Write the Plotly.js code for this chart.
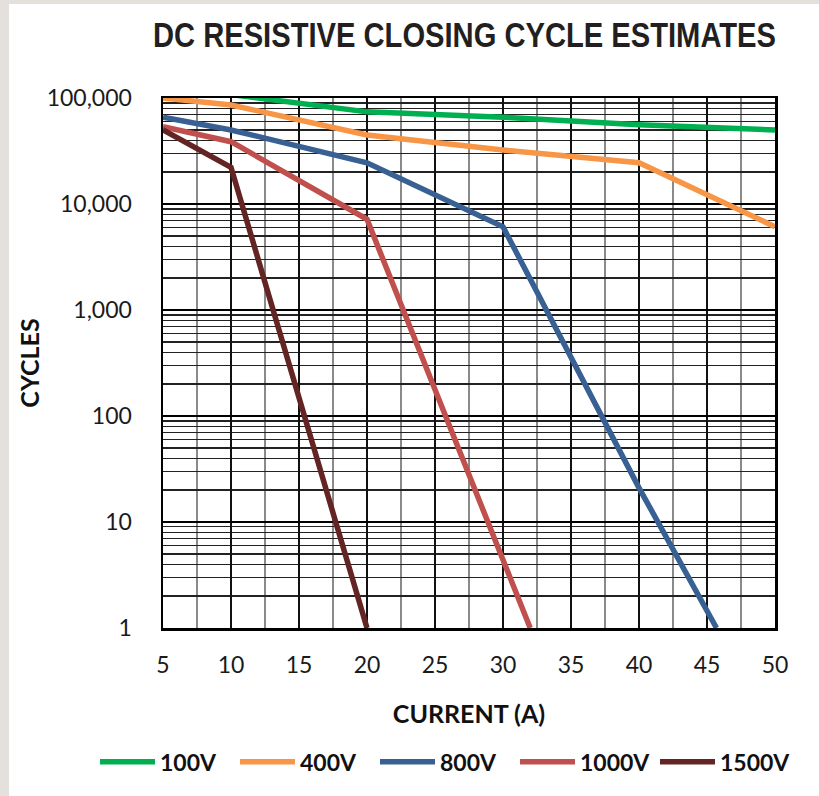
<!DOCTYPE html>
<html>
<head>
<meta charset="utf-8">
<script src="https://cdn.plot.ly/plotly-3.0.1.min.js"></script>
<style>
  html, body { margin: 0; padding: 0; width: 819px; height: 796px; overflow: hidden; background: #e4e0dc; }
  #chart { position: absolute; left: 9px; top: 4px; width: 810px; height: 792px; background: #ffffff; }
</style>
</head>
<body>
<div id="chart"></div>
<script>
// ---- data ----
const seriesNames = ["100V", "400V", "800V", "1000V", "1500V"];
const current100V = [5, 20, 30, 40, 50];
const cycles100V  = [130000, 74000, 66000, 56000, 50000];
const current400V = [5, 10, 20, 30, 40, 50];
const cycles400V  = [100000, 86000, 44800, 32300, 24500, 6100];
const current800V = [5, 10, 20, 30, 40, 45.7];
const cycles800V  = [65800, 49900, 24500, 6100, 21, 1];
const current1000V = [5, 10, 20, 32];
const cycles1000V  = [53500, 38700, 7180, 1];
const current1500V = [5, 10, 20];
const cycles1500V  = [50000, 22200, 1];

const xTickVals = [5, 10, 15, 20, 25, 30, 35, 40, 45, 50];
const xTickText = ["5", "10", "15", "20", "25", "30", "35", "40", "45", "50"];
const yTickVals = [1, 10, 100, 1000, 10000, 100000];
const yTickText = ["1", "10", "100", "1,000", "10,000", "100,000"];

// ---- styling ----
const colors = ["#00b050", "#f79646", "#386092", "#c0504d", "#632523"];
const xs = [current100V, current400V, current800V, current1000V, current1500V];
const ys = [cycles100V, cycles400V, cycles800V, cycles1000V, cycles1500V];

const traces = seriesNames.map((name, i) => ({
  type: "scatter",
  mode: "lines",
  name: name,
  x: xs[i],
  y: ys[i],
  line: { color: colors[i], width: 5.5 },
  hoverinfo: "skip"
}));

// minor log grid positions (2..9 in each decade)
const minorY = [];
for (let d = 1; d < 100000; d *= 10) {
  for (let k = 2; k <= 9; k++) minorY.push(k * d);
}

const tickFont = { family: "Lato, 'Open Sans', sans-serif", size: 23, color: "#1a1a1a" };
const boldFont = { family: "Lato, 'Open Sans', sans-serif", size: 25, color: "#111111", weight: "bold" };

const layout = {
  width: 810,
  height: 792,
  paper_bgcolor: "#ffffff",
  plot_bgcolor: "#ffffff",
  margin: { l: 154, r: 44, t: 94, b: 168 },
  title: {
    text: "DC RESISTIVE CLOSING CYCLE ESTIMATES",
    font: { family: "'Liberation Sans', Arial, sans-serif", size: 35, color: "#231f20", weight: "bold" },
    xref: "paper", x: 0.4926, xanchor: "center",
    yref: "container", y: 1 - 31 / 792, yanchor: "middle"
  },
  showlegend: true,
  legend: {
    orientation: "h",
    xref: "paper", x: (86 - 154) / 612, xanchor: "left",
    yref: "paper", y: -0.2525, yanchor: "middle",
    font: { family: "Lato, 'Open Sans', sans-serif", size: 23, color: "#111111", weight: "bold" },
    itemwidth: 55,
    entrywidth: 70,
    entrywidthmode: "pixels",
    bgcolor: "rgba(0,0,0,0)",
    itemclick: false, itemdoubleclick: false
  },
  xaxis: {
    type: "linear",
    range: [5, 50],
    tickmode: "array",
    tickvals: xTickVals,
    ticktext: xTickText,
    ticks: "outside",
    ticklen: 15,
    tickcolor: "rgba(0,0,0,0)",
    tickfont: tickFont,
    showgrid: true,
    gridcolor: "#111111",
    gridwidth: 2,
    minor: { tickmode: "linear", tick0: 5, dtick: 2.5, showgrid: true, gridcolor: "#8a8a8a", gridwidth: 2 },
    showline: true,
    linecolor: "#000000",
    linewidth: 2.5,
    mirror: true,
    zeroline: false,
    fixedrange: true,
    automargin: false,
    title: { text: "<b>CURRENT (A)</b>", font: boldFont, standoff: 29 }
  },
  yaxis: {
    type: "log",
    range: [0, 5],
    tickmode: "array",
    tickvals: yTickVals,
    ticktext: yTickText,
    ticks: "outside",
    ticklen: 24,
    tickcolor: "rgba(0,0,0,0)",
    tickfont: tickFont,
    showgrid: true,
    gridcolor: "#000000",
    gridwidth: 2.5,
    minor: { tickmode: "array", tickvals: minorY, showgrid: true, gridcolor: "#222222", gridwidth: 1.3 },
    showline: true,
    linecolor: "#000000",
    linewidth: 2.5,
    mirror: true,
    zeroline: false,
    fixedrange: true,
    automargin: true,
    title: { text: "<b>CYCLES</b>", font: boldFont, standoff: 0 }
  }
};

function condenseTitle() {
  const t = document.querySelector("#chart .gtitle");
  if (t) {
    t.setAttribute("textLength", "623");
    t.setAttribute("lengthAdjust", "spacingAndGlyphs");
  }
}

Plotly.newPlot("chart", traces, layout, { displayModeBar: false, staticPlot: true }).then(condenseTitle);
</script>
</body>
</html>
